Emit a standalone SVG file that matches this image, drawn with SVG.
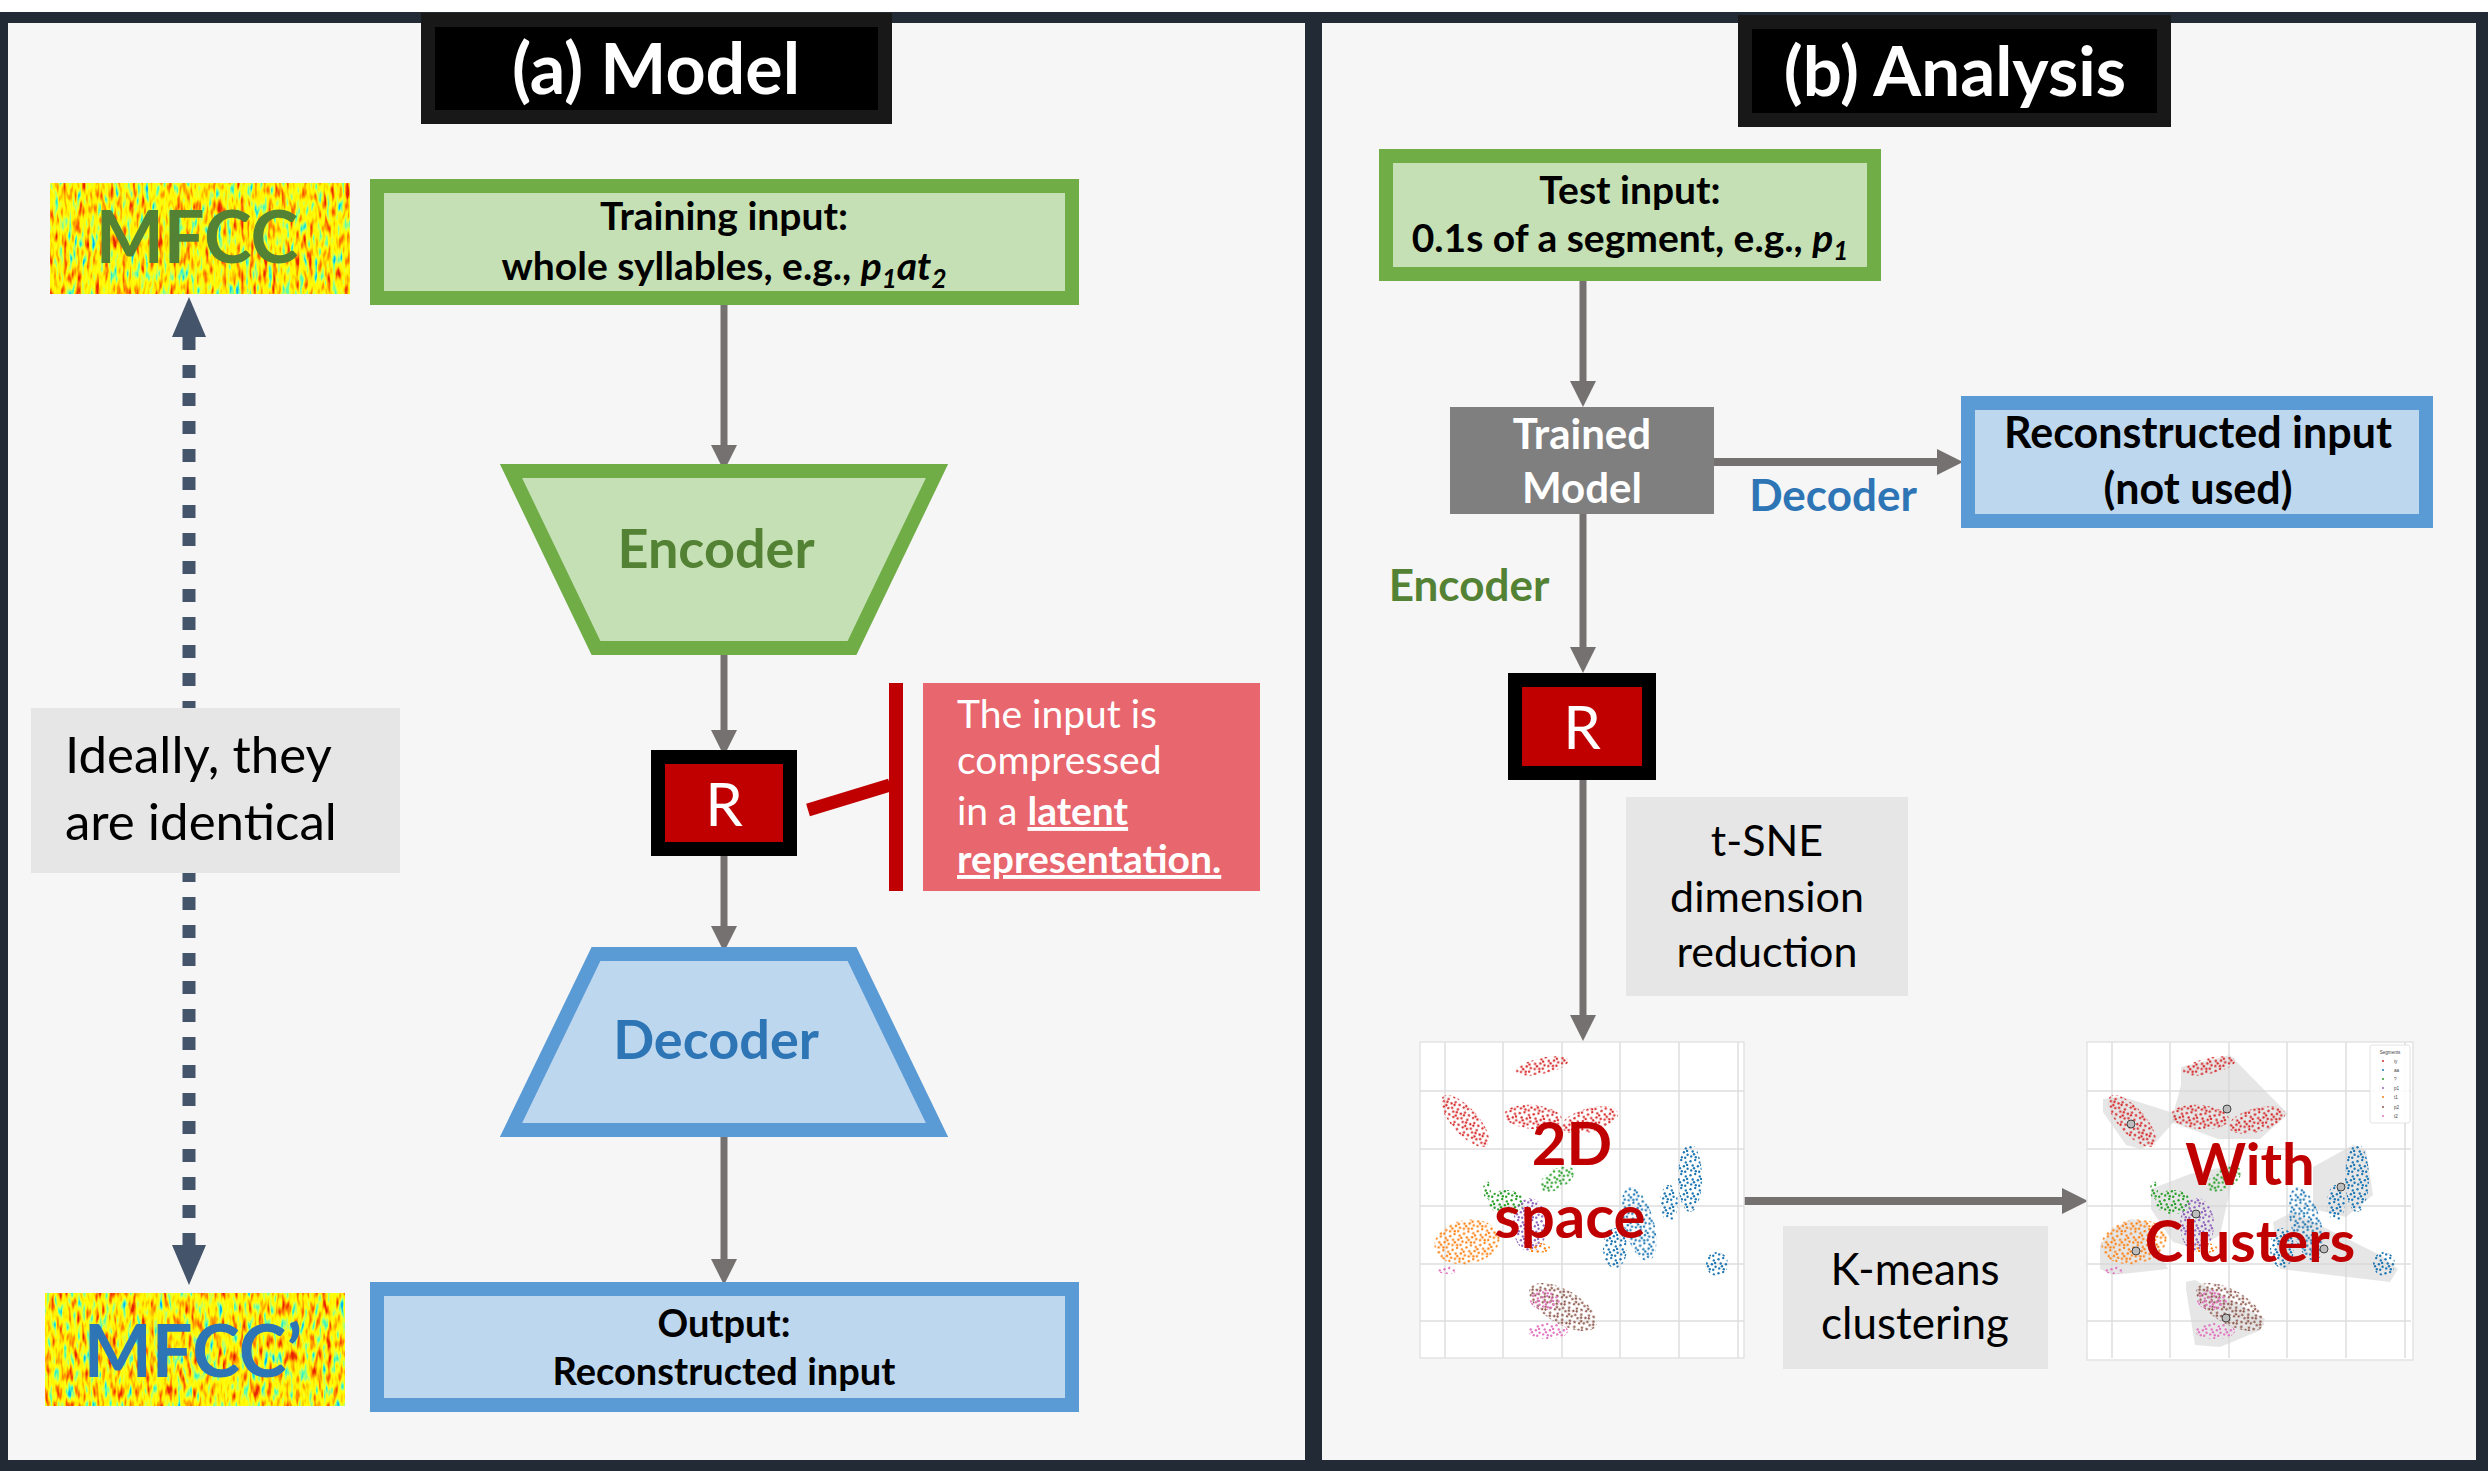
<svg xmlns="http://www.w3.org/2000/svg" xmlns:xlink="http://www.w3.org/1999/xlink" width="2488" height="1471" viewBox="0 0 2488 1471">
<defs>
<style>
text{font-family:Lato,"Open Sans","Liberation Sans",sans-serif}
.b{font-weight:700}
.c{text-anchor:middle}
.arr{fill:none;stroke:#767171;stroke-width:7;marker-end:url(#ah)}
.arrh{fill:none;stroke:#767171;stroke-width:8;marker-end:url(#ah)}
.grn{fill:#c5e0b4;stroke:#70ad47;stroke-width:14}
.blu{fill:#bdd7ee;stroke:#5b9bd5;stroke-width:14}
.gbox{fill:#e7e6e6}
.rbox{fill:#c00000;stroke:#000;stroke-width:14}
.ttl{fill:#000;stroke:#181818;stroke-width:14}
.hull{fill:#d6d6d6;fill-opacity:.6}
.cen{fill:#bdbdbd;stroke:#333;stroke-width:.9}
.lg{font-family:"Liberation Sans",sans-serif;font-size:4.6px;fill:#444}
</style>
<marker id="ah" markerUnits="userSpaceOnUse" markerWidth="26" markerHeight="26" viewBox="0 0 26 26" refX="0" refY="13" orient="auto">
<path d="M0,0 L26,13 L0,26 z" fill="#767171"/>
</marker>
<marker id="dh" markerUnits="userSpaceOnUse" markerWidth="40" markerHeight="34" viewBox="0 0 40 34" refX="0" refY="17" orient="auto-start-reverse">
<path d="M0,0 L40,17 L0,34 z" fill="#44546a"/>
</marker>
<filter id="specA" x="0" y="0" width="1" height="1" color-interpolation-filters="sRGB">
<feTurbulence type="fractalNoise" baseFrequency="0.22 0.06" numOctaves="2" seed="4"/>
<feColorMatrix type="matrix" values="1.6 0 0 0 -0.27  1.6 0 0 0 -0.27  1.6 0 0 0 -0.27  0 0 0 0 1"/>
<feComponentTransfer>
<feFuncR type="table" tableValues="0 0.3 0.75 1 1 1 1 0.9"/>
<feFuncG type="table" tableValues="0.7 1 1 1 0.95 0.7 0.45 0.15"/>
<feFuncB type="table" tableValues="1 0.7 0.4 0.05 0 0 0 0"/>
</feComponentTransfer>
</filter>
<filter id="specB" x="0" y="0" width="1" height="1" color-interpolation-filters="sRGB">
<feTurbulence type="fractalNoise" baseFrequency="0.22 0.06" numOctaves="2" seed="11"/>
<feColorMatrix type="matrix" values="1.6 0 0 0 -0.27  1.6 0 0 0 -0.27  1.6 0 0 0 -0.27  0 0 0 0 1"/>
<feComponentTransfer>
<feFuncR type="table" tableValues="0 0.3 0.75 1 1 1 1 0.9"/>
<feFuncG type="table" tableValues="0.7 1 1 1 0.95 0.7 0.45 0.15"/>
<feFuncB type="table" tableValues="1 0.7 0.4 0.05 0 0 0 0"/>
</feComponentTransfer>
</filter>
<g id="dots">
<circle cx="1.5" cy="2.3" r="1.2"/><circle cx="6.2" cy="1.1" r="1.2"/><circle cx="10.8" cy="3.4" r="1.2"/>
<circle cx="3.7" cy="6.5" r="1.2"/><circle cx="8.9" cy="7.2" r="1.2"/><circle cx="12.6" cy="9.8" r="1.2"/>
<circle cx="2.2" cy="11.4" r="1.2"/><circle cx="6.8" cy="12.3" r="1.2"/><circle cx="5.0" cy="9.2" r="1.2"/>
<circle cx="12.1" cy="5.9" r="1.2"/><circle cx="10.2" cy="12.8" r="1.2"/>
</g>
<pattern id="pR" width="14" height="14" patternUnits="userSpaceOnUse"><use href="#dots" fill="#d62728"/></pattern>
<pattern id="pB" width="14" height="14" patternUnits="userSpaceOnUse" patternTransform="translate(3 5)"><use href="#dots" fill="#1f77b4"/></pattern>
<pattern id="pG" width="14" height="14" patternUnits="userSpaceOnUse" patternTransform="translate(6 2)"><use href="#dots" fill="#2ca02c"/></pattern>
<pattern id="pP" width="14" height="14" patternUnits="userSpaceOnUse" patternTransform="translate(8 9)"><use href="#dots" fill="#9467bd"/></pattern>
<pattern id="pO" width="14" height="14" patternUnits="userSpaceOnUse" patternTransform="translate(2 7)"><use href="#dots" fill="#ff7f0e"/></pattern>
<pattern id="pN" width="14" height="14" patternUnits="userSpaceOnUse" patternTransform="translate(5 4)"><use href="#dots" fill="#8c564b"/></pattern>
<pattern id="pK" width="14" height="14" patternUnits="userSpaceOnUse" patternTransform="translate(9 1)"><use href="#dots" fill="#e377c2"/></pattern>
<g id="grid" stroke="#dedede" stroke-width="1.5" fill="none">
<path d="M25,0V316M83,0V316M142,0V316M200,0V316M259,0V316M318,0V316M0,49H324M0,107H324M0,164H324M0,222H324M0,279H324"/>
</g>
<g id="scat">
<ellipse cx="122" cy="24" rx="27" ry="8" transform="rotate(-12 122 24)" fill="url(#pR)"/>
<ellipse cx="45" cy="79" rx="33" ry="13" transform="rotate(48 45 79)" fill="url(#pR)"/>
<ellipse cx="113" cy="75" rx="29" ry="12" transform="rotate(5 113 75)" fill="url(#pR)"/>
<ellipse cx="170" cy="78" rx="29" ry="12" transform="rotate(-15 170 78)" fill="url(#pR)"/>
<ellipse cx="137" cy="137" rx="19" ry="10" transform="rotate(-30 137 137)" fill="url(#pG)"/>
<ellipse cx="86" cy="160" rx="18" ry="12" fill="url(#pG)"/>
<ellipse cx="67" cy="148" rx="4" ry="9" fill="url(#pG)"/>
<ellipse cx="110" cy="183" rx="17" ry="27" fill="url(#pP)"/>
<ellipse cx="47" cy="200" rx="33" ry="22" transform="rotate(-10 47 200)" fill="url(#pO)"/>
<ellipse cx="118" cy="206" rx="12" ry="5" fill="url(#pO)"/>
<ellipse cx="27" cy="228" rx="10" ry="4" fill="url(#pK)"/>
<ellipse cx="143" cy="265" rx="38" ry="17" transform="rotate(30 143 265)" fill="url(#pN)"/>
<ellipse cx="125" cy="258" rx="15" ry="10" fill="url(#pK)"/>
<ellipse cx="128" cy="289" rx="20" ry="8" fill="url(#pK)"/>
<ellipse cx="270" cy="136" rx="12" ry="34" fill="url(#pB)"/>
<ellipse cx="219" cy="182" rx="15" ry="38" transform="rotate(-15 219 182)" fill="url(#pB)"/>
<ellipse cx="249" cy="161" rx="9" ry="18" fill="url(#pB)"/>
<ellipse cx="195" cy="206" rx="12" ry="20" fill="url(#pB)"/>
<ellipse cx="297" cy="222" rx="11" ry="12" fill="url(#pB)"/>
</g>
</defs>

<rect width="2488" height="1471" fill="#ffffff"/>
<g id="panels">
<rect x="0" y="12" width="2488" height="1459" fill="#222a35"/>
<rect x="8" y="23" width="1297" height="1437" fill="#f6f6f6"/>
<rect x="1322" y="23" width="1154" height="1437" fill="#f6f6f6"/>
</g>

<g id="connectors">
<path d="M189,337 V1245" fill="none" stroke="#44546a" stroke-width="13" stroke-dasharray="13 15" marker-start="url(#dh)" marker-end="url(#dh)"/>
<path class="arr" d="M724,298 V445"/>
<path class="arr" d="M724,648 V730"/>
<path class="arr" d="M724,856 V926"/>
<path class="arr" d="M724,1137 V1259"/>
<path class="arr" d="M1583,281 V381"/>
<path class="arrh" d="M1714,462 H1937"/>
<path class="arr" d="M1583,514 V647"/>
<path class="arr" d="M1583,780 V1015"/>
<path class="arrh" d="M1742,1201 H2062"/>
<path d="M808,810 L890,785" stroke="#c00000" stroke-width="13" fill="none"/>
</g>

<g id="title-a">
<rect class="ttl" x="428" y="20" width="457" height="97"/>
<text class="b c" x="656" y="94" font-size="70" fill="#fff">(a) Model</text>
</g>
<g id="title-b">
<rect class="ttl" x="1745" y="22" width="419" height="98"/>
<text class="b c" x="1955" y="96" font-size="69" fill="#fff">(b) Analysis</text>
</g>

<g id="mfcc">
<rect x="50" y="183" width="300" height="111" fill="#ff0" filter="url(#specA)"/>
<text class="b c" x="197" y="263" font-size="72" fill="#548235">MFCC</text>
</g>
<g id="mfcc-prime">
<rect x="45" y="1293" width="300" height="113" fill="#ff0" filter="url(#specB)"/>
<text class="b c" x="193" y="1377" font-size="72" fill="#2e75b6">MFCC’</text>
</g>

<g id="training-input">
<rect class="grn" x="377" y="186" width="695" height="112"/>
<text class="b c" x="724" y="230" font-size="39">Training input:</text>
<text class="b c" x="724" y="280" font-size="39">whole syllables, e.g., <tspan font-style="italic">p</tspan><tspan font-style="italic" font-size="26" dy="8">1</tspan><tspan font-style="italic" dy="-8">at</tspan><tspan font-style="italic" font-size="26" dy="8">2</tspan></text>
</g>

<g id="encoder">
<polygon class="grn" points="511,471 937,471 852,648 596,648" stroke-width="15"/>
<text class="b c" x="716" y="568" font-size="54" fill="#548235">Encoder</text>
</g>

<g id="latent-r">
<rect class="rbox" x="658" y="757" width="132" height="92"/>
<text class="c" x="724" y="826" font-size="60" fill="#fff">R</text>
</g>

<g id="callout">
<rect x="889" y="683" width="14" height="208" fill="#c00000"/>
<rect x="923" y="683" width="337" height="208" fill="#e8666e"/>
<text x="957" y="728" font-size="39" fill="#fff">The input is</text>
<text x="957" y="774" font-size="39" fill="#fff">compressed</text>
<text x="957" y="825" font-size="39" fill="#fff">in a <tspan class="b" text-decoration="underline">latent</tspan></text>
<text class="b" x="957" y="873" font-size="39" fill="#fff" text-decoration="underline">representation.</text>
</g>

<g id="decoder">
<polygon class="blu" points="596,954 852,954 937,1130 511,1130" stroke-width="15"/>
<text class="b c" x="716" y="1059" font-size="54" fill="#2e75b6">Decoder</text>
</g>

<g id="output">
<rect class="blu" x="377" y="1289" width="695" height="116"/>
<text class="b c" x="724" y="1337" font-size="38">Output:</text>
<text class="b c" x="724" y="1385" font-size="38">Reconstructed input</text>
</g>

<g id="ideally">
<rect class="gbox" x="31" y="708" width="369" height="165"/>
<text x="65" y="773" font-size="51">Ideally, they</text>
<text x="65" y="840" font-size="51">are identical</text>
</g>

<g id="test-input">
<rect class="grn" x="1386" y="156" width="488" height="118"/>
<text class="b c" x="1630" y="204" font-size="39">Test input:</text>
<text class="b c" x="1630" y="252" font-size="39">0.1s of a segment, e.g., <tspan font-style="italic">p</tspan><tspan font-style="italic" font-size="26" dy="8">1</tspan></text>
</g>

<g id="trained-model">
<rect x="1450" y="407" width="264" height="107" fill="#7f7f7f"/>
<text class="b c" x="1582" y="449" font-size="42" fill="#fff">Trained</text>
<text class="b c" x="1582" y="503" font-size="42" fill="#fff">Model</text>
</g>

<g id="decoder-label">
<text class="b c" x="1833" y="511" font-size="44" fill="#2e75b6">Decoder</text>
</g>

<g id="reconstructed">
<rect class="blu" x="1968" y="403" width="458" height="118"/>
<text class="b c" x="2198" y="448" font-size="43">Reconstructed input</text>
<text class="b c" x="2198" y="504" font-size="43">(not used)</text>
</g>

<g id="encoder-label">
<text class="b c" x="1469" y="601" font-size="44" fill="#548235">Encoder</text>
</g>

<g id="latent-r2">
<rect class="rbox" x="1515" y="680" width="134" height="93"/>
<text class="c" x="1582" y="749" font-size="60" fill="#fff">R</text>
</g>

<g id="tsne">
<rect class="gbox" x="1626" y="797" width="282" height="199"/>
<text class="c" x="1767" y="856" font-size="43">t-SNE</text>
<text class="c" x="1767" y="912" font-size="43">dimension</text>
<text class="c" x="1767" y="967" font-size="43">reduction</text>
</g>

<g id="space-2d">
<g transform="translate(1420 1042)">
<rect width="324" height="316" fill="#fff" stroke="#e3e3e3" stroke-width="1.5"/>
<use href="#grid"/>
<use href="#scat"/>
</g>
<text class="b c" x="1572" y="1165" font-size="60" fill="#c00000">2D</text>
<text class="b c" x="1570" y="1238" font-size="60" fill="#c00000">space</text>
</g>

<g id="kmeans">
<rect class="gbox" x="1783" y="1226" width="265" height="143"/>
<text class="c" x="1915" y="1285" font-size="44">K-means</text>
<text class="c" x="1915" y="1339" font-size="44">clustering</text>
</g>

<g id="clusters">
<g transform="translate(2087 1042)">
<rect width="326" height="318" fill="#fff" stroke="#e3e3e3" stroke-width="1.5"/>
<use href="#grid"/>
<polygon class="hull" points="94,25 143,13 201,72 173,97 131,97 84,80 94,43"/>
<polygon class="hull" points="16,57 36,55 93,73 69,100 54,107 39,103 16,70"/>
<polygon class="hull" points="64,147 103,132 149,122 133,193 109,207 86,200 64,167"/>
<polygon class="hull" points="13,203 26,187 44,177 59,180 81,227 26,233 13,227"/>
<polygon class="hull" points="226,125 266,103 279,108 286,153 259,175 226,167"/>
<polygon class="hull" points="186,180 206,170 293,213 311,227 303,240 193,227"/>
<polygon class="hull" points="99,240 108,238 178,277 174,288 133,305 108,303 99,247"/>
<use href="#scat"/>
<circle class="cen" cx="140" cy="67" r="4"/>
<circle class="cen" cx="44" cy="82" r="4"/>
<circle class="cen" cx="109" cy="172" r="4"/>
<circle class="cen" cx="49" cy="209" r="4"/>
<circle class="cen" cx="254" cy="145" r="4"/>
<circle class="cen" cx="237" cy="207" r="4"/>
<circle class="cen" cx="139" cy="276" r="4"/>
<rect x="283" y="3" width="40" height="78" rx="2" fill="#fff" fill-opacity=".85" stroke="#ddd" stroke-width=".8"/>
<text class="lg" x="303" y="12" text-anchor="middle">Segments</text>
<circle cx="296" cy="19" r="1" fill="#d62728"/><text class="lg" x="307" y="20.5">iy</text>
<circle cx="296" cy="28" r="1" fill="#1f77b4"/><text class="lg" x="307" y="29.5">aa</text>
<circle cx="296" cy="37" r="1" fill="#2ca02c"/><text class="lg" x="307" y="38.5">?</text>
<circle cx="296" cy="46" r="1" fill="#9467bd"/><text class="lg" x="307" y="47.5">p1</text>
<circle cx="296" cy="55" r="1" fill="#ff7f0e"/><text class="lg" x="307" y="56.5">t1</text>
<circle cx="296" cy="65" r="1" fill="#8c564b"/><text class="lg" x="307" y="66.5">p2</text>
<circle cx="296" cy="74" r="1" fill="#e377c2"/><text class="lg" x="307" y="75.5">t2</text>
</g>
<text class="b c" x="2250" y="1185" font-size="58" fill="#c00000">With</text>
<text class="b c" x="2250" y="1262" font-size="58" fill="#c00000">Clusters</text>
</g>
</svg>
